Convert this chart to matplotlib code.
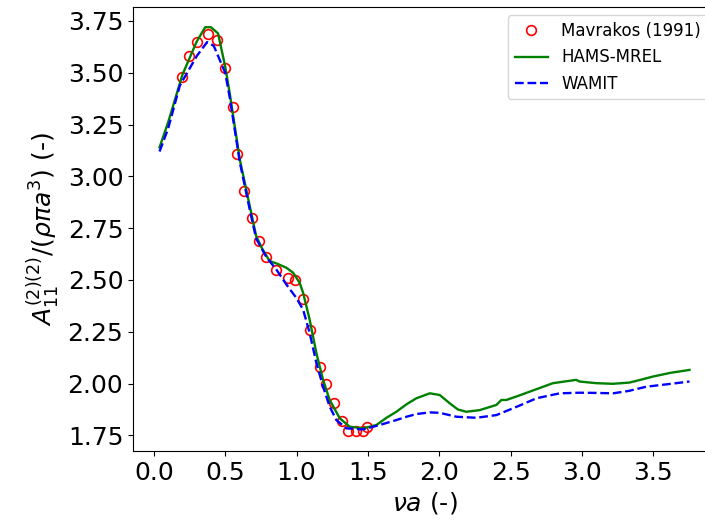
import matplotlib
matplotlib.use("Agg")
import matplotlib.pyplot as plt

# Mavrakos (1991) reference points
mav_x = [0.198, 0.245, 0.303, 0.380, 0.443, 0.502, 0.555, 0.583, 0.632, 0.688,
         0.740, 0.789, 0.859, 0.941, 0.992, 1.046, 1.097, 1.162, 1.209, 1.261,
         1.319, 1.361, 1.415, 1.466, 1.494]
mav_y = [3.479, 3.581, 3.648, 3.689, 3.656, 3.522, 3.334, 3.107, 2.930, 2.797,
         2.690, 2.610, 2.546, 2.510, 2.502, 2.410, 2.260, 2.082, 1.997, 1.908,
         1.821, 1.772, 1.772, 1.772, 1.792]

# HAMS-MREL
hams_x = [0.04, 0.10, 0.20, 0.30, 0.36, 0.40, 0.45, 0.50, 0.532, 0.602, 0.672,
          0.717, 0.760, 0.812, 0.859, 0.929, 0.976, 1.022, 1.046, 1.092, 1.139,
          1.186, 1.232, 1.303, 1.373, 1.466, 1.559, 1.630, 1.699, 1.770, 1.839,
          1.933, 2.003, 2.073, 2.130, 2.190, 2.283, 2.400, 2.435, 2.470, 2.550,
          2.633, 2.796, 2.959, 2.983, 3.100, 3.217, 3.333, 3.420, 3.497, 3.620,
          3.753]
hams_y = [3.14, 3.26, 3.49, 3.65, 3.72, 3.72, 3.69, 3.53, 3.40, 3.083, 2.857,
          2.712, 2.650, 2.591, 2.580, 2.559, 2.535, 2.486, 2.438, 2.308, 2.147,
          2.018, 1.921, 1.832, 1.792, 1.784, 1.800, 1.835, 1.864, 1.900, 1.929,
          1.953, 1.945, 1.905, 1.875, 1.864, 1.872, 1.897, 1.921, 1.921, 1.940,
          1.961, 2.002, 2.018, 2.010, 2.002, 1.999, 2.005, 2.020, 2.034, 2.052,
          2.066]

# WAMIT
wamit_x = [0.04, 0.10, 0.182, 0.30, 0.373, 0.42, 0.50, 0.532, 0.602, 0.672,
           0.717, 0.789, 0.859, 0.929, 0.999, 1.046, 1.092, 1.139, 1.186, 1.232,
           1.279, 1.349, 1.466, 1.582, 1.699, 1.770, 1.839, 1.933, 2.003, 2.120,
           2.260, 2.400, 2.517, 2.600, 2.680, 2.843, 2.983, 3.100, 3.217, 3.330,
           3.450, 3.600, 3.753]
wamit_y = [3.12, 3.23, 3.438, 3.58, 3.648, 3.63, 3.50, 3.38, 3.07, 2.84,
           2.70, 2.61, 2.55, 2.478, 2.413, 2.357, 2.244, 2.099, 1.985, 1.889,
           1.824, 1.784, 1.779, 1.800, 1.824, 1.840, 1.853, 1.861, 1.859, 1.840,
           1.835, 1.848, 1.881, 1.905, 1.929, 1.953, 1.956, 1.955, 1.953, 1.965,
           1.985, 1.997, 2.010]

fig = plt.figure(figsize=(7.05, 5.28), dpi=100)
ax = fig.add_axes([0.1887, 0.1458, 0.8269, 0.8409])

ax.plot(mav_x, mav_y, 'o', mfc='none', mec='red', ms=7, mew=1.2, label='Mavrakos (1991)')
ax.plot(hams_x, hams_y, '-', color='green', lw=1.7, label='HAMS-MREL')
ax.plot(wamit_x, wamit_y, '--', color='blue', lw=1.7, label='WAMIT')

ax.set_xticks([0.0, 0.5, 1.0, 1.5, 2.0, 2.5, 3.0, 3.5])
ax.set_yticks([1.75, 2.00, 2.25, 2.50, 2.75, 3.00, 3.25, 3.50, 3.75])
ax.tick_params(labelsize=18)
ax.set_xlabel(r'$\nu a$ (-)', fontsize=18)
ax.set_ylabel(r'$A_{11}^{(2)(2)}/(\rho\pi a^3)$ (-)', fontsize=18)
ax.legend(loc='upper right', fontsize=12)

fig.savefig('out.png', dpi=100)
